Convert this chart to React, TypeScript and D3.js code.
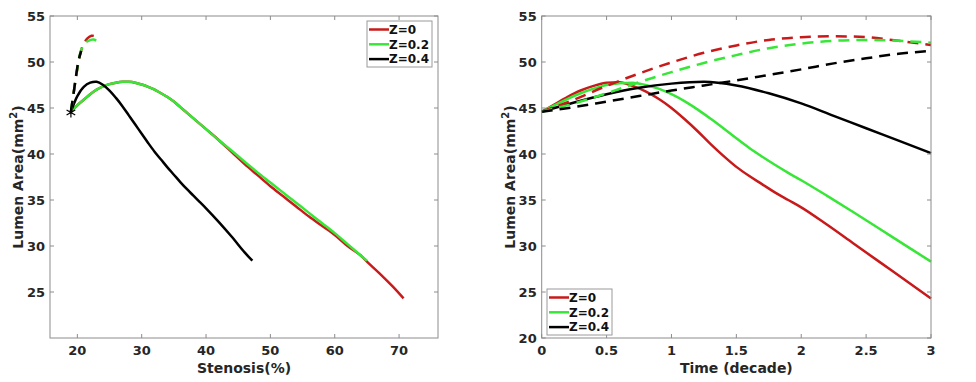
import React, { useEffect, useRef } from "react";
import * as d3 from "d3";

const W = 976;
const H = 382;

const RED = "#c81a1a";
const GREEN = "#38e638";
const BLACK = "#000000";

// ---- left panel: stenosis (%) vs lumen area, points are [stenosis, area]
const leftRedSolid: [number, number][] = [
  [19, 44.6], [20, 45.3], [21, 45.9], [22, 46.5], [23, 47.0], [24, 47.35], [25, 47.6],
  [26, 47.75], [27, 47.85], [28, 47.85], [29, 47.75], [30, 47.55], [31, 47.3], [32, 47.0],
  [33, 46.6], [34, 46.2], [35, 45.7], [36, 45.1], [37, 44.5], [38, 43.9], [39, 43.3],
  [40, 42.7], [42, 41.5], [44, 40.2], [46, 38.9], [48, 37.7], [50, 36.5], [52, 35.4],
  [54, 34.3], [56, 33.2], [58, 32.2], [60, 31.2], [62, 30.0], [64, 29.0], [65, 28.3],
  [67, 27.0], [69, 25.6], [70.7, 24.3],
];
const leftGreenSolid: [number, number][] = [
  [19, 44.6], [20, 45.3], [21, 45.9], [22, 46.5], [23, 47.0], [24, 47.35], [25, 47.6],
  [26, 47.75], [27, 47.85], [28, 47.85], [29, 47.75], [30, 47.55], [31, 47.3], [32, 47.0],
  [33, 46.6], [34, 46.2], [35, 45.7], [36, 45.1], [37, 44.5], [38, 43.9], [39, 43.3],
  [40, 42.7], [42, 41.5], [44, 40.35], [46, 39.15], [48, 38.0], [50, 36.9], [52, 35.8],
  [54, 34.7], [56, 33.6], [58, 32.5], [60, 31.4], [62, 30.2], [64, 29.0], [65, 28.4],
];
const leftBlackSolid: [number, number][] = [
  [19, 44.6], [20, 46.3], [21, 47.3], [22, 47.75], [23, 47.85], [24, 47.5], [25, 46.9],
  [26, 46.1], [27, 45.2], [28, 44.2], [29, 43.2], [30, 42.2], [31, 41.2], [32, 40.25],
  [33, 39.4], [34, 38.55], [35, 37.75], [36, 36.95], [37, 36.2], [38, 35.5], [39, 34.8],
  [40, 34.1], [42, 32.6], [44, 31.0], [46, 29.3], [47.2, 28.4],
];
const leftRedDashed: [number, number][] = [
  [19, 44.6], [19.5, 47.0], [20, 49.3], [20.5, 51.0], [21, 52.0], [21.6, 52.6],
  [22.2, 52.85], [22.8, 52.8], [23.5, 52.6],
];
const leftGreenDashed: [number, number][] = [
  [19, 44.6], [19.5, 47.0], [20, 49.3], [20.5, 51.1], [21, 51.9], [21.7, 52.3],
  [22.5, 52.45], [23.5, 52.1],
];
const leftBlackDashed: [number, number][] = [
  [19, 44.6], [19.4, 46.5], [19.8, 48.5], [20.2, 50.2], [20.6, 51.2],
];
const startPoint: [number, number] = [19, 44.5];

// ---- right panel: time (decade) vs lumen area
const tFine = [
  0, 0.1, 0.2, 0.3, 0.4, 0.5, 0.6, 0.7, 0.8, 0.9, 1.0, 1.1, 1.2, 1.3, 1.4, 1.5,
  1.6, 1.7, 1.8, 1.9, 2.0, 2.2, 2.4, 2.6, 2.8, 3.0,
];
const redSolid = [
  44.6, 45.4, 46.2, 46.9, 47.4, 47.75, 47.8, 47.4, 46.8, 46.0, 45.0, 43.8, 42.5, 41.1,
  39.8, 38.6, 37.6, 36.7, 35.8, 35.0, 34.2, 32.3, 30.3, 28.3, 26.3, 24.3,
];
const greenSolid = [
  44.6, 45.3, 46.0, 46.6, 47.1, 47.5, 47.7, 47.75, 47.5, 47.1, 46.5, 45.75, 44.85, 43.85,
  42.8, 41.7, 40.65, 39.7, 38.8, 37.95, 37.15, 35.45, 33.7, 31.9, 30.1, 28.3,
];
const tQuarter = [0, 0.25, 0.5, 0.75, 1.0, 1.25, 1.5, 1.75, 2.0, 2.25, 2.5, 2.75, 3.0];
const blackSolid = [44.6, 45.6, 46.5, 47.2, 47.65, 47.85, 47.45, 46.6, 45.5, 44.15, 42.8, 41.45, 40.1];
const redDashed = [44.6, 45.9, 47.4, 48.75, 49.95, 51.0, 51.8, 52.4, 52.7, 52.8, 52.7, 52.3, 51.85];
const greenDashed = [44.6, 45.5, 46.6, 47.8, 48.9, 49.9, 50.75, 51.5, 52.0, 52.3, 52.4, 52.3, 52.1];
const blackDashed = [44.6, 45.1, 45.7, 46.3, 46.9, 47.45, 48.0, 48.6, 49.2, 49.85, 50.4, 50.9, 51.2];

const legendLabels = ["Z=0", "Z=0.2", "Z=0.4"];
const legendColors = [RED, GREEN, BLACK];

const leftXTicks = [20, 30, 40, 50, 60, 70];
const leftYTicks = [25, 30, 35, 40, 45, 50, 55];
const rightXTicks = [0, 0.5, 1, 1.5, 2, 2.5, 3];
const rightYTicks = [20, 25, 30, 35, 40, 45, 50, 55];

const FONT = "'DejaVu Sans', sans-serif";

function drawPanel(g, opts) {
  const { x, y, xTicks, yTicks, xFmt, xLabel } = opts;
  const [x0, x1] = x.range();
  const [y0, y1] = y.range(); // bottom, top
  const tk = 4;
  const axisColor = "#8c8c8c";

  // box
  g.append("rect")
    .attr("x", x0).attr("y", y1)
    .attr("width", x1 - x0).attr("height", y0 - y1)
    .attr("fill", "none").attr("stroke", axisColor).attr("stroke-width", 1);

  // ticks mirrored on all sides, pointing inward
  xTicks.forEach((v) => {
    const px = x(v);
    g.append("line").attr("x1", px).attr("x2", px).attr("y1", y0).attr("y2", y0 - tk)
      .attr("stroke", axisColor);
    g.append("line").attr("x1", px).attr("x2", px).attr("y1", y1).attr("y2", y1 + tk)
      .attr("stroke", axisColor);
    g.append("text").attr("x", px).attr("y", y0 + 17)
      .attr("text-anchor", "middle").attr("font-family", FONT).attr("font-weight", "bold")
      .attr("font-size", 13).attr("fill", "#262626").text(xFmt(v));
  });
  yTicks.forEach((v) => {
    const py = y(v);
    g.append("line").attr("x1", x0).attr("x2", x0 + tk).attr("y1", py).attr("y2", py)
      .attr("stroke", axisColor);
    g.append("line").attr("x1", x1).attr("x2", x1 - tk).attr("y1", py).attr("y2", py)
      .attr("stroke", axisColor);
    g.append("text").attr("x", x0 - 5).attr("y", py + 4.7)
      .attr("text-anchor", "end").attr("font-family", FONT).attr("font-weight", "bold")
      .attr("font-size", 13).attr("fill", "#262626").text(v);
  });

  // axis labels
  g.append("text").attr("x", (x0 + x1) / 2).attr("y", y0 + 35)
    .attr("text-anchor", "middle").attr("font-family", FONT).attr("font-weight", "bold")
    .attr("font-size", 14).attr("fill", "#262626").text(xLabel);

  const yl = g.append("text")
    .attr("transform", `translate(${x0 - 27},${(y0 + y1) / 2}) rotate(-90)`)
    .attr("text-anchor", "middle").attr("font-family", FONT).attr("font-weight", "bold")
    .attr("font-size", 14).attr("fill", "#262626");
  yl.append("tspan").text("Lumen Area(mm");
  yl.append("tspan").attr("dy", -6).attr("font-size", 10).text("2");
  yl.append("tspan").attr("dy", 6).text(")");
}

function drawLegend(g, lx, ly) {
  const w = 65, h = 46;
  g.append("rect").attr("x", lx).attr("y", ly).attr("width", w).attr("height", h)
    .attr("fill", "white").attr("stroke", "#9a9a9a").attr("stroke-width", 1);
  legendLabels.forEach((lab, i) => {
    const cy = ly + 8.5 + i * 14.8;
    g.append("line").attr("x1", lx + 2).attr("x2", lx + 22).attr("y1", cy).attr("y2", cy)
      .attr("stroke", legendColors[i]).attr("stroke-width", 2.5);
    g.append("text").attr("x", lx + 22).attr("y", cy + 4.3)
      .attr("font-family", FONT).attr("font-weight", "bold").attr("font-size", 12)
      .attr("fill", "#111").text(lab);
  });
}

export default function App() {
  const svgRef = useRef(null);

  useEffect(() => {
    const svg = d3.select(svgRef.current);
    svg.selectAll("*").remove();

    // ---------- left panel
    const xL = d3.scaleLinear().domain([15.75, 76.05]).range([50, 438]);
    const yL = d3.scaleLinear().domain([20, 55]).range([338, 16]);
    const gL = svg.append("g");
    const lineL = d3.line<[number, number]>()
      .x((d) => xL(d[0])).y((d) => yL(d[1]))
      .curve(d3.curveCatmullRom);

    const leftSeries = [
      { data: leftRedSolid, color: RED, dash: null },
      { data: leftGreenSolid, color: GREEN, dash: null },
      { data: leftBlackSolid, color: BLACK, dash: null },
      { data: leftRedDashed, color: RED, dash: "11,7" },
      { data: leftGreenDashed, color: GREEN, dash: "11,7" },
      { data: leftBlackDashed, color: BLACK, dash: "11,7" },
    ];
    const plotL = gL.append("g");
    leftSeries.forEach((s) => {
      plotL.append("path").attr("d", lineL(s.data)).attr("fill", "none")
        .attr("stroke", s.color).attr("stroke-width", 2.5)
        .attr("stroke-dasharray", s.dash);
    });
    // asterisk marker at start
    const sx = xL(startPoint[0]);
    const sy = yL(startPoint[1]);
    plotL.append("path")
      .attr("d", d3.symbol(d3.symbolAsterisk, 70)())
      .attr("transform", `translate(${sx},${sy})`)
      .attr("fill", "none").attr("stroke", BLACK).attr("stroke-width", 1.2);

    drawPanel(gL, {
      x: xL, y: yL, xTicks: leftXTicks, yTicks: leftYTicks,
      xFmt: (v) => String(v), xLabel: "Stenosis(%)",
    });
    drawLegend(gL, 367, 21);

    // ---------- right panel
    const xR = d3.scaleLinear().domain([0, 3]).range([541.7, 931]);
    const yR = d3.scaleLinear().domain([20, 55]).range([338, 16]);
    const gR = svg.append("g");
    const lineR = d3.line<[number, number]>()
      .x((d) => xR(d[0])).y((d) => yR(d[1]))
      .curve(d3.curveMonotoneX);

    const rightSeries = [
      { t: tFine, v: redSolid, color: RED, dash: null },
      { t: tFine, v: greenSolid, color: GREEN, dash: null },
      { t: tQuarter, v: blackSolid, color: BLACK, dash: null },
      { t: tQuarter, v: redDashed, color: RED, dash: "11,7" },
      { t: tQuarter, v: greenDashed, color: GREEN, dash: "11,7" },
      { t: tQuarter, v: blackDashed, color: BLACK, dash: "11,7" },
    ];
    rightSeries.forEach((s) => {
      const pts = s.t.map((t, i) => [t, s.v[i]] as [number, number]);
      gR.append("path").attr("d", lineR(pts)).attr("fill", "none")
        .attr("stroke", s.color).attr("stroke-width", 2.5)
        .attr("stroke-dasharray", s.dash);
    });

    drawPanel(gR, {
      x: xR, y: yR, xTicks: rightXTicks, yTicks: rightYTicks,
      xFmt: (v) => String(v), xLabel: "Time (decade)",
    });
    drawLegend(gR, 547, 289);
  }, []);

  return (
    <svg
      ref={svgRef}
      width={W}
      height={H}
      style={{ position: "absolute", left: 0, top: 0, background: "white" }}
    />
  );
}
